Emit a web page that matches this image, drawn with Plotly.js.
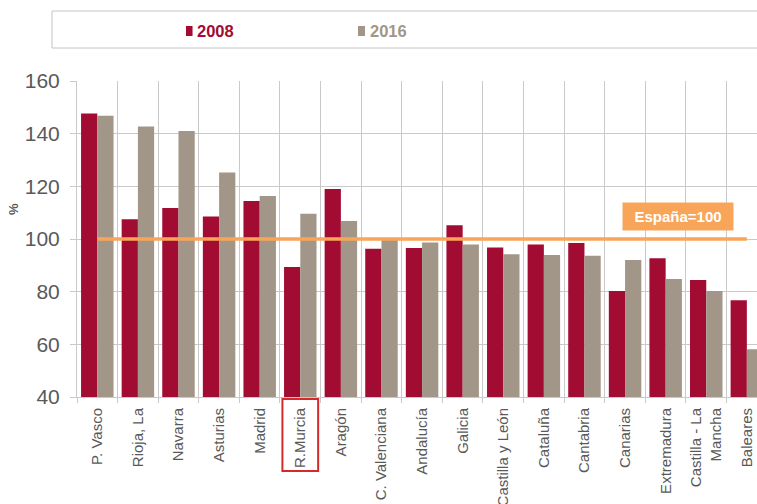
<!DOCTYPE html>
<html>
<head>
<meta charset="utf-8">
<script src="https://cdn.plot.ly/plotly-3.0.1.min.js"></script>
<style>
  html, body { margin: 0; padding: 0; background: #fff; }
  #chart { width: 757px; height: 504px; }
</style>
</head>
<body>
<div id="chart"></div>
<script>
// Regiones (índice España = 100)
const regions = ["P. Vasco", "Rioja, La", "Navarra", "Asturias", "Madrid", "R.Murcia", "Aragón",
    "C. Valenciana", "Andalucía", "Galicia", "Castilla y León", "Cataluña", "Cantabria",
    "Canarias", "Extremadura", "Castilla - La<br>Mancha", "Baleares"];
const values2008 = [147.7, 107.5, 111.8, 108.5, 114.4, 89.4, 119.0, 96.3, 96.6, 105.2, 96.8, 97.9, 98.5, 80.3, 92.7, 84.4, 76.7];
const values2016 = [146.8, 142.7, 141.0, 125.3, 116.3, 109.6, 106.8, 99.6, 98.7, 97.9, 94.2, 93.9, 93.6, 92.0, 84.8, 80.3, 58.1];
const seriesNames = ["2008", "2016"];
const spainLevel = 100;
const highlighted = "R.Murcia";

const colors = { y2008: "#a20c33", y2016: "#a29688", spain: "#f8a55a", grid: "#c9c9c9", text: "#595959" };

const trace2008 = {
    x: regions, y: values2008, type: "bar", name: seriesNames[0],
    marker: { color: colors.y2008 }, showlegend: false
};
const trace2016 = {
    x: regions, y: values2016, type: "bar", name: seriesNames[1],
    marker: { color: colors.y2016 }, showlegend: false
};
// Línea de referencia España=100, del primer al último territorio
const spainLine = {
    x: [regions[0], regions[regions.length - 1]], y: [spainLevel, spainLevel],
    type: "scatter", mode: "lines", line: { color: colors.spain, width: 3.5 },
    showlegend: false, hoverinfo: "skip"
};

const hIdx = regions.indexOf(highlighted);
const legendFont = "Liberation Sans Narrow, Arial Narrow, Liberation Sans, sans-serif";

const layout = {
    width: 757, height: 504,
    margin: { l: 77, r: 0, t: 81, b: 107 },
    paper_bgcolor: "#fff", plot_bgcolor: "#fff",
    barmode: "group", bargap: 0.2, bargroupgap: 0,
    font: { family: "Liberation Sans, Arial, sans-serif", color: colors.text },
    xaxis: {
        type: "category", range: [-0.5, 16.25],
        tickson: "boundaries", showgrid: true, gridcolor: colors.grid, gridwidth: 1,
        ticks: "outside", ticklen: 5, tickcolor: colors.grid,
        showline: true, linecolor: colors.grid,
        ticklabelstandoff: 4,
        tickangle: -90, tickfont: { size: 15, color: colors.text }
    },
    yaxis: {
        range: [40, 160], dtick: 20, showgrid: true, gridcolor: colors.grid, gridwidth: 1,
        ticks: "outside", ticklen: 6, tickcolor: colors.grid,
        showline: true, linecolor: colors.grid, zeroline: false,
        ticklabelstandoff: 6,
        tickfont: { size: 21, color: colors.text }
    },
    shapes: [
        // caja de la leyenda
        { type: "rect", xref: "paper", yref: "paper", x0: -0.0368, x1: 1.01, y0: 1.1044, y1: 1.2215,
          line: { color: "#c4c4c4", width: 1 }, fillcolor: "#fff" },
        { type: "rect", xref: "paper", yref: "paper", x0: 0.1603, x1: 0.1699, y0: 1.1424, y1: 1.1741,
          line: { width: 0 }, fillcolor: colors.y2008 },
        { type: "rect", xref: "paper", yref: "paper", x0: 0.4132, x1: 0.4235, y0: 1.1424, y1: 1.1741,
          line: { width: 0 }, fillcolor: colors.y2016 },
        // recuadro R.Murcia
        { type: "rect", xref: "x", yref: "paper", x0: hIdx - 0.44, x1: hIdx + 0.44, y0: -0.234, y1: -0.006,
          line: { color: "#d42a2a", width: 2 } }
    ],
    annotations: [
        { xref: "paper", yref: "paper", x: 0.174, y: 1.1582, xanchor: "left", yanchor: "middle",
          text: "<b>" + seriesNames[0] + "</b>", showarrow: false,
          font: { family: legendFont, size: 16.5, color: colors.y2008 } },
        { xref: "paper", yref: "paper", x: 0.428, y: 1.1582, xanchor: "left", yanchor: "middle",
          text: "<b>" + seriesNames[1] + "</b>", showarrow: false,
          font: { family: legendFont, size: 16.5, color: colors.y2016 } },
        { xref: "paper", yref: "paper", x: 0.8838, y: 0.5712, xanchor: "center", yanchor: "middle",
          text: "<b>España=100</b>", showarrow: false, bgcolor: colors.spain, borderpad: 0,
          width: 110, height: 27, font: { size: 15, color: "#fff" } },
        { xref: "paper", yref: "paper", x: -0.0926, y: 0.595, xanchor: "center", yanchor: "middle",
          text: "<b>%</b>", textangle: -90, showarrow: false, font: { size: 13, color: colors.text } }
    ]
};

Plotly.newPlot("chart", [trace2008, trace2016, spainLine], layout, { displayModeBar: false, staticPlot: true });
</script>
</body>
</html>
